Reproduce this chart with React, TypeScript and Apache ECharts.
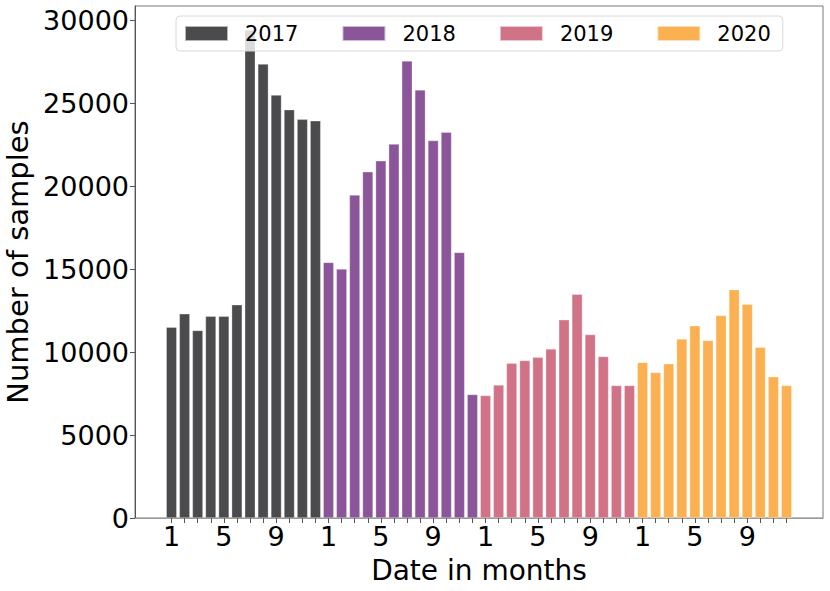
import React, { useEffect, useRef } from "react";
import * as echarts from "echarts";

const years = ["2017", "2018", "2019", "2020"];
const colors = ["#4b4b4d", "#8a5699", "#d07387", "#fbb151"];
const values2017 = [11500, 12300, 11300, 12150, 12150, 12850, 29400, 27350, 25480, 24600, 24020, 23930];
const values2018 = [15400, 15000, 19460, 20860, 21520, 22530, 27540, 25790, 22740, 23250, 16000, 7440];
const values2019 = [7380, 8020, 9330, 9490, 9690, 10190, 11940, 13480, 11050, 9730, 7980, 7980];
const values2020 = [9370, 8770, 9290, 10790, 11590, 10690, 12200, 13760, 12880, 10290, 8510, 7980];
const allValues = [values2017, values2018, values2019, values2020];
const monthTicks = Array.from({ length: 48 }, (_, i) => i);
const monthLabelTicks = monthTicks.filter((i) => i % 12 === 0 || i % 12 === 4 || i % 12 === 8);
const yTicks = [0, 5000, 10000, 15000, 20000, 25000, 30000];

export default function App() {
  const ref = useRef<HTMLDivElement>(null);
  useEffect(() => {
    if (!ref.current) return;
    const chart = echarts.init(ref.current, undefined, { renderer: "svg" });
    const font = "DejaVu Sans";
    chart.setOption({
      animation: false,
      textStyle: { fontFamily: font },
      grid: {
        left: 135,
        right: 7,
        top: 6,
        bottom: 73,
        containLabel: false,
        outerBoundsMode: "none",
        show: true,
        borderColor: "#777",
        borderWidth: 1,
      },
      legend: {
        data: years,
        left: 176,
        top: 16,
        icon: "rect",
        itemWidth: 43,
        itemHeight: 15,
        itemGap: 43,
        padding: [7, 12, 7, 8],
        backgroundColor: "rgba(255,255,255,0.8)",
        borderColor: "#d8d8d8",
        borderWidth: 1,
        borderRadius: 4,
        textStyle: { fontSize: 21, color: "#000", fontFamily: font, padding: [0, 0, 0, 12] },
        z: 10,
      },
      xAxis: {
        type: "value",
        min: -2.79,
        max: 49.79,
        name: "Date in months",
        nameLocation: "middle",
        nameGap: 38,
        nameTextStyle: { fontSize: 28, color: "#000", fontFamily: font },
        splitLine: { show: false },
        axisLine: { show: true, onZero: false, lineStyle: { color: "#999" } },
        axisTick: { show: true, length: 5, customValues: monthTicks, lineStyle: { color: "#555" } },
        axisLabel: {
          customValues: monthLabelTicks,
          fontSize: 27,
          color: "#000",
          margin: 5,
          fontFamily: font,
          formatter: (v: number) => String((Math.round(v) % 12) + 1),
        },
      },
      yAxis: {
        type: "value",
        min: 0,
        max: 30850,
        name: "Number of samples",
        nameLocation: "middle",
        nameGap: 95,
        nameTextStyle: { fontSize: 29, color: "#000", fontFamily: font },
        splitLine: { show: false },
        axisLine: { show: true, onZero: false, lineStyle: { color: "#555" } },
        axisTick: { show: true, length: 5, customValues: yTicks, lineStyle: { color: "#555" } },
        axisLabel: {
          customValues: yTicks,
          fontSize: 27,
          color: "#000",
          margin: 6,
          fontFamily: font,
          formatter: (v: number) => String(v),
        },
      },
      series: years.map((y, k) => ({
        name: y,
        type: "bar",
        barWidth: 10.5,
        barGap: "-100%",
        itemStyle: { color: colors[k], borderColor: "rgba(255,255,255,0.6)", borderWidth: 0.5 },
        data: allValues[k].map((v, i) => [k * 12 + i, v]),
      })),
    });
    return () => chart.dispose();
  }, []);
  return <div ref={ref} style={{ width: 830, height: 591, position: "absolute", left: 0, top: 0 }} />;
}
